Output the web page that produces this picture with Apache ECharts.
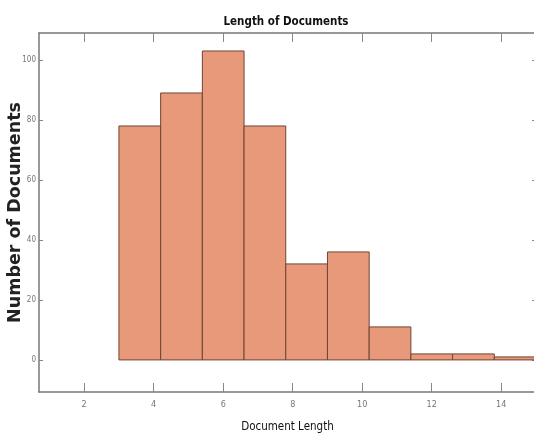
<!DOCTYPE html>
<html>
<head>
<meta charset="utf-8">
<script src="https://cdn.jsdelivr.net/npm/echarts@6/dist/echarts.min.js"></script>
<style>html,body{margin:0;padding:0;background:#fff}#c{width:534px;height:435px}</style>
</head>
<body>
<div id="c"></div>
<script>
// Histogram data
var binEdges = [3, 4.2, 5.4, 6.6, 7.8, 9, 10.2, 11.4, 12.6, 13.8, 15];
var counts = [78, 89, 103, 78, 32, 36, 11, 2, 2, 1];
var xTicks = [2, 4, 6, 8, 10, 12, 14];
var yTicks = [0, 20, 40, 60, 80, 100];

var data = counts.map(function (c, i) { return [binEdges[i], binEdges[i + 1], c]; });

var narrow = 'DejaVu Sans Condensed, Roboto, sans-serif';
var chart = echarts.init(document.getElementById('c'), null, { renderer: 'canvas' });
var tickStyle = { color: '#888', width: 1 };
var axisLineStyle = { show: true, onZero: false, lineStyle: { color: '#777', width: 1.5 } };
chart.setOption({
  animation: false,
  title: {
    text: 'Length of Documents', left: 281, top: 11, textAlign: 'center',
    textStyle: { fontFamily: narrow, fontWeight: 'bold', fontSize: 11.5, color: '#111' }
  },
  grid: { left: 39, top: 33, right: -2, bottom: 43, containLabel: false, outerBoundsMode: 'none' },
  xAxis: [{
    type: 'value', min: 0.7, max: 15, position: 'bottom',
    axisLine: axisLineStyle,
    axisTick: { show: true, inside: true, length: 9, lineStyle: tickStyle, customValues: xTicks },
    axisLabel: { show: true, margin: 8, customValues: xTicks, color: '#777', fontSize: 9, fontFamily: narrow },
    splitLine: { show: false },
    name: 'Document Length', nameLocation: 'middle', nameGap: 29, nameMoveOverlap: false,
    nameTextStyle: { fontFamily: narrow, fontSize: 11.5, color: '#111' }
  }, {
    type: 'value', min: 0.7, max: 15, position: 'top',
    axisLine: axisLineStyle,
    axisTick: { show: true, inside: true, length: 9, lineStyle: tickStyle, customValues: xTicks },
    axisLabel: { show: false }, splitLine: { show: false }
  }],
  yAxis: [{
    type: 'value', min: -10.7, max: 109, position: 'left',
    axisLine: axisLineStyle,
    axisTick: { show: true, inside: true, length: 4, lineStyle: tickStyle, customValues: yTicks },
    axisLabel: { show: true, margin: 3, customValues: yTicks, color: '#777', fontSize: 8, fontFamily: narrow },
    splitLine: { show: false },
    name: 'Number of Documents', nameLocation: 'middle', nameGap: 15, nameMoveOverlap: false,
    nameTextStyle: { fontFamily: 'DejaVu Sans, sans-serif', fontWeight: 'bold', fontSize: 17.5, color: '#222' }
  }, {
    type: 'value', min: -10.7, max: 109, position: 'right',
    axisLine: axisLineStyle,
    axisTick: { show: true, inside: true, length: 4, lineStyle: tickStyle, customValues: yTicks },
    axisLabel: { show: false }, splitLine: { show: false }
  }],
  series: [{
    type: 'custom',
    xAxisIndex: 0, yAxisIndex: 0,
    data: data,
    encode: { x: [0, 1], y: 2 },
    renderItem: function (params, api) {
      var p0 = api.coord([api.value(0), 0]);
      var p1 = api.coord([api.value(1), api.value(2)]);
      return {
        type: 'rect',
        shape: { x: p0[0], y: p1[1], width: p1[0] - p0[0], height: p0[1] - p1[1] },
        style: { fill: '#E8997A', stroke: '#6e4535', lineWidth: 1 }
      };
    }
  }]
});
</script>
</body>
</html>
